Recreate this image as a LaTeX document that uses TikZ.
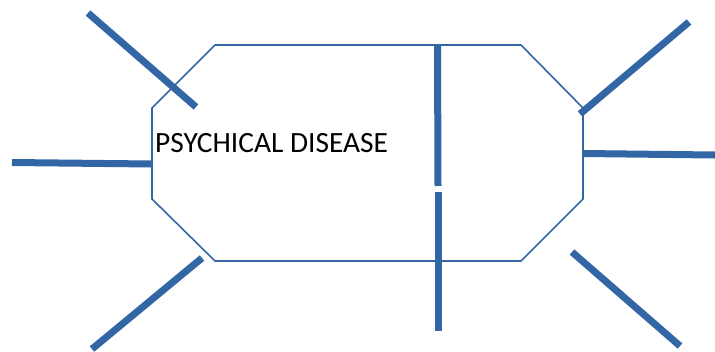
\documentclass[tikz,border=0pt]{standalone}
\usepackage{fontspec}
\setmainfont{Carlito}
\definecolor{oblue}{RGB}{51,102,165}
\begin{document}
\begin{tikzpicture}[x=1pt,y=-1pt,
  stroke/.style={draw=oblue,line width=7pt},
  outline/.style={draw=oblue,line width=1.6pt,line join=miter}]
\useasboundingbox (0,0) rectangle (715,351);
\coordinate (o1) at (215,45);
\coordinate (o2) at (521,45);
\coordinate (o3) at (583,108);
\coordinate (o4) at (583,199);
\coordinate (o5) at (521,261);
\coordinate (o6) at (215,261);
\coordinate (o7) at (152,199);
\coordinate (o8) at (152,108);
\draw[outline] (o1) -- (o2) -- (o3) -- (o4) -- (o5) -- (o6) -- (o7) -- (o8) -- cycle;
\node[anchor=base west,inner sep=0pt,font=\fontsize{29.4}{32}\selectfont] (t) at (155,152) {PSYCHICAL DISEASE};
\coordinate (a1) at (88,13);   \coordinate (a2) at (196,107);
\coordinate (b1) at (12,162.5);  \coordinate (b2) at (152,164);
\coordinate (c1) at (202,258); \coordinate (c2) at (92,349);
\coordinate (d1) at (437.5,45);  \coordinate (d2) at (438,186);
\coordinate (e1) at (438,192); \coordinate (e2) at (438,331);
\coordinate (f1) at (689,22);  \coordinate (f2) at (580,114);
\coordinate (g1) at (583,153.5); \coordinate (g2) at (715,155);
\coordinate (h1) at (572,252); \coordinate (h2) at (680,346);
\draw[stroke] (a1) -- (a2);
\draw[stroke] (b1) -- (b2);
\draw[stroke] (c1) -- (c2);
\draw[stroke] (d1) -- (d2);
\draw[stroke] (e1) -- (e2);
\draw[stroke] (f1) -- (f2);
\draw[stroke] (g1) -- (g2);
\draw[stroke] (h1) -- (h2);
\end{tikzpicture}
\end{document}
